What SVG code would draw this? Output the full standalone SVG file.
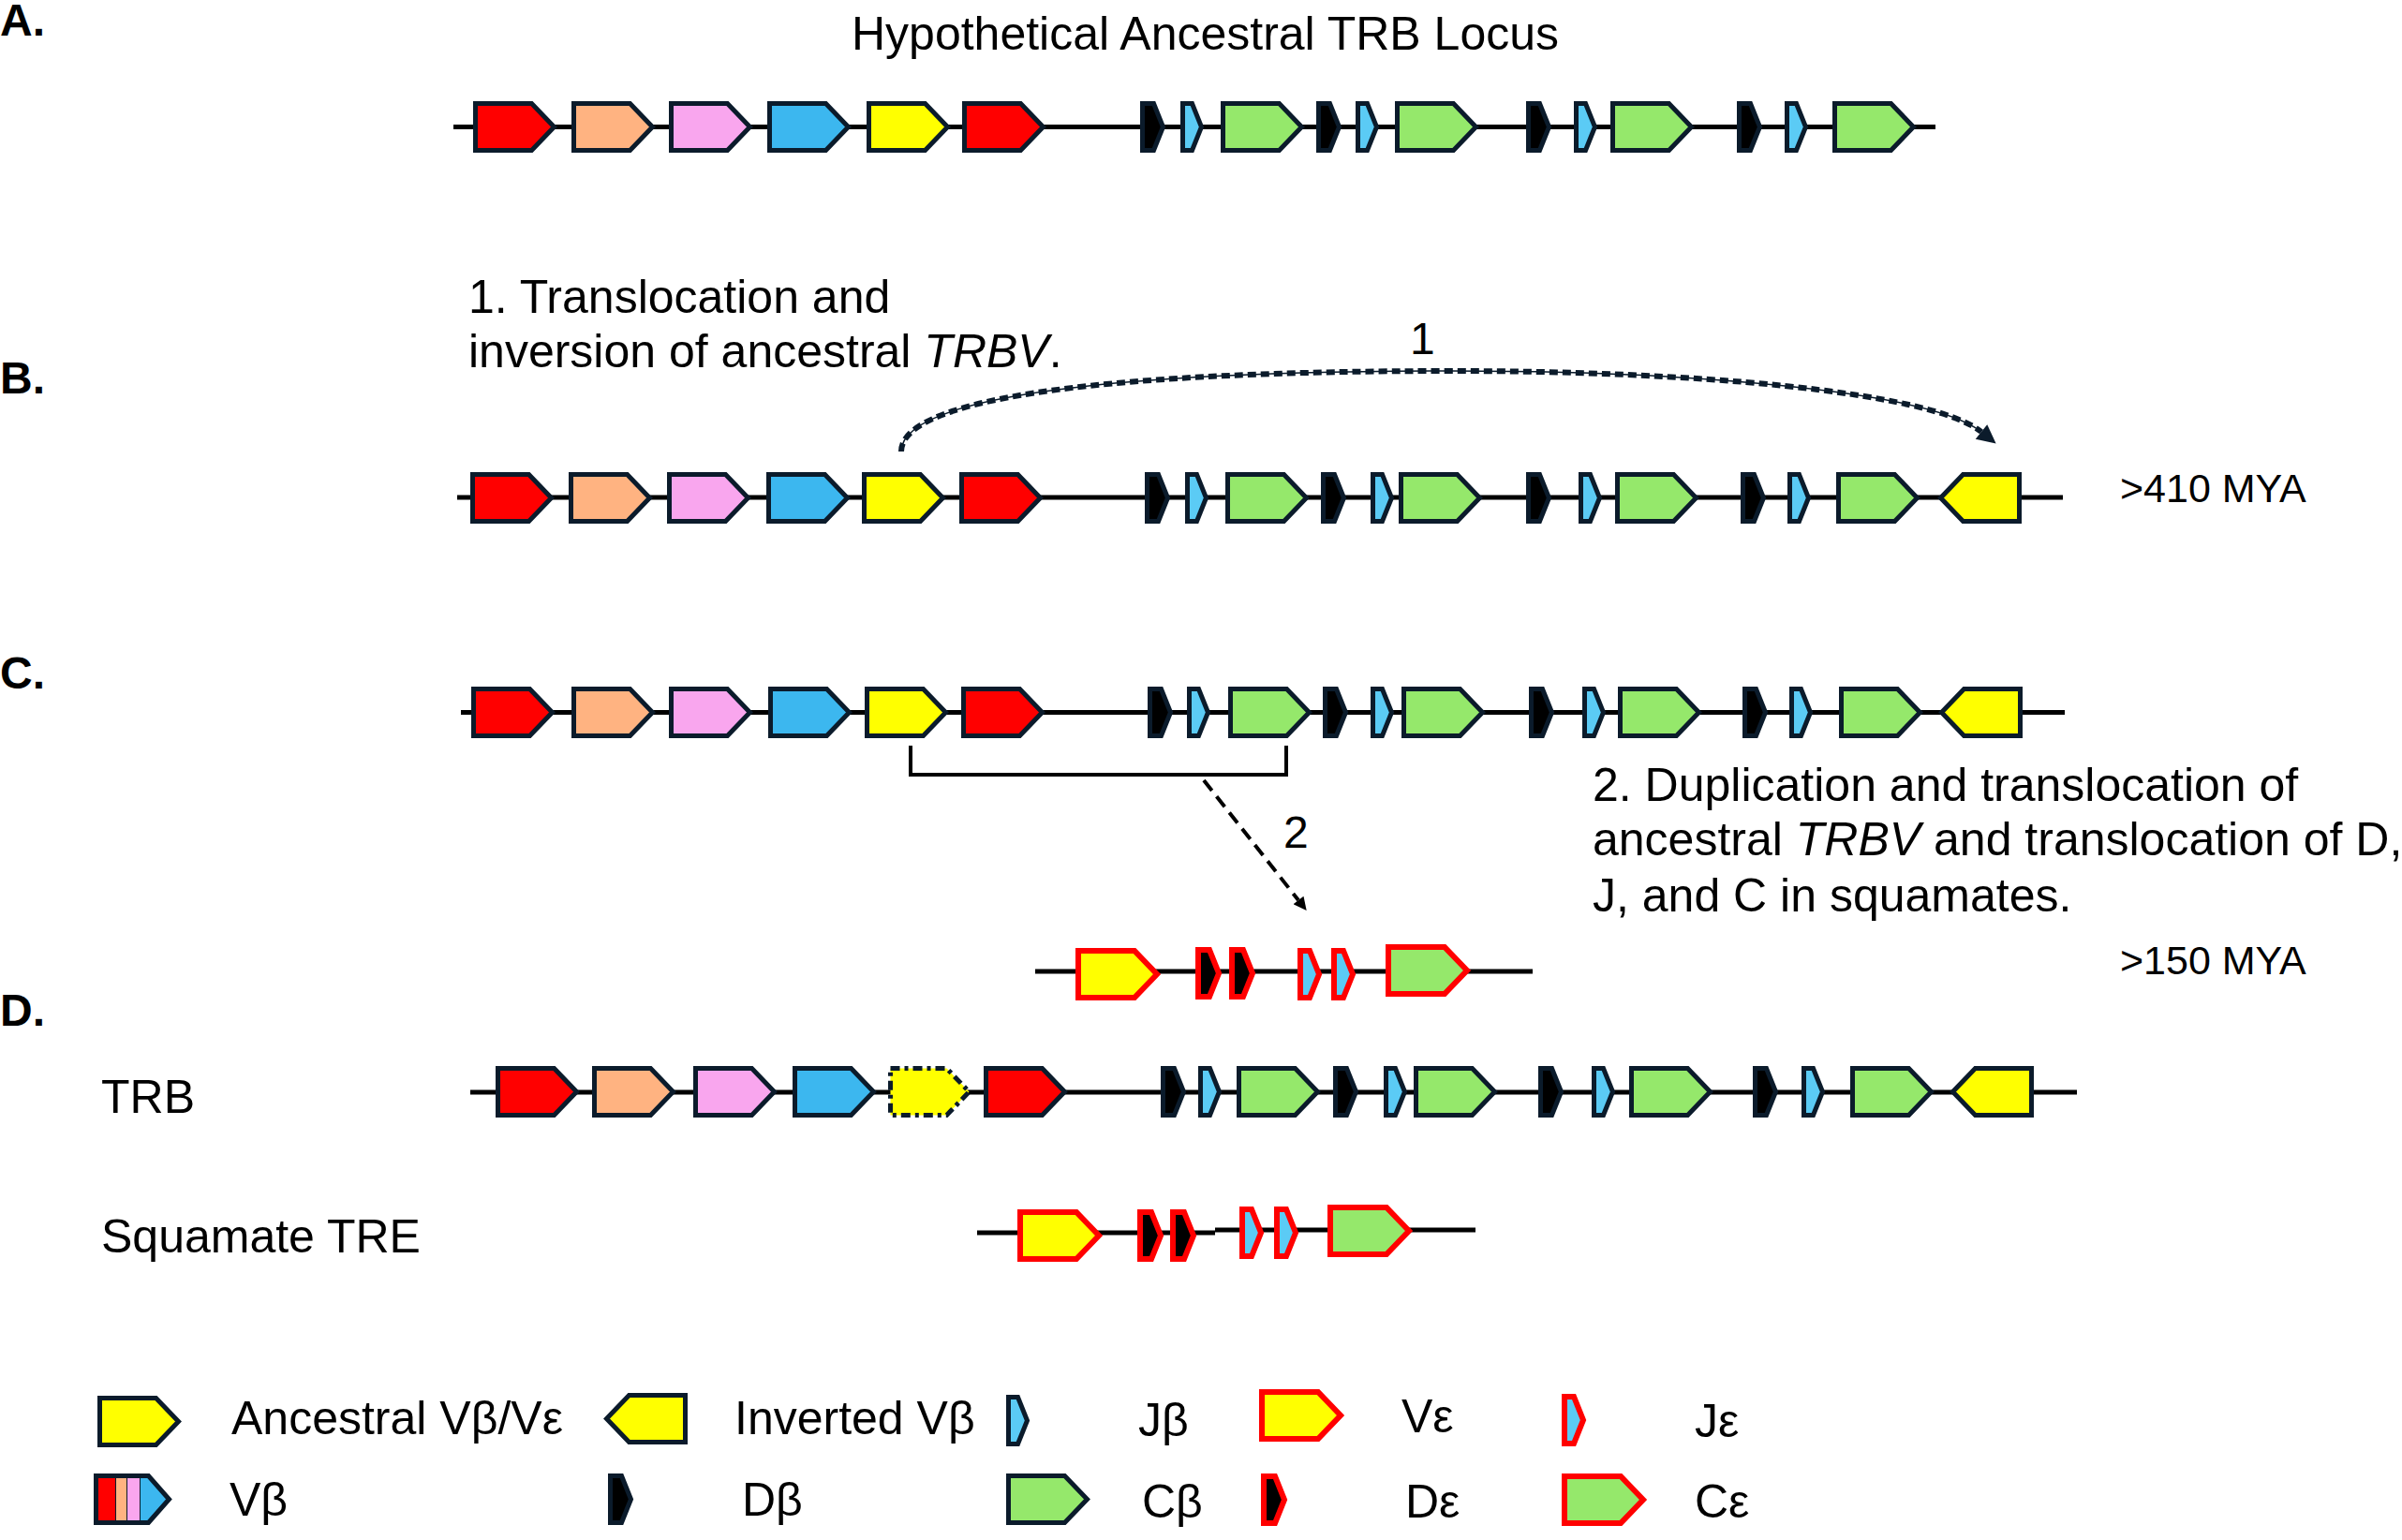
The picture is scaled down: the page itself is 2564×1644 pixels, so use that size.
<svg xmlns="http://www.w3.org/2000/svg" xmlns:xlink="http://www.w3.org/1999/xlink" width="2564" height="1644" viewBox="0 0 2564 1644">
<style>
text{font-family:"Liberation Sans",Arial,sans-serif;font-size:50px;fill:#000}
text.lbl{font-weight:bold;font-size:48px}
text.num{font-size:48px}
text.mya{font-size:43px}
.it{font-style:italic}
.ln{stroke:#000;stroke-width:5;fill:none}
.o{stroke:#0b1b2b;stroke-width:5;stroke-linejoin:miter}
.e{stroke:#ff0000;stroke-width:6;stroke-linejoin:miter}
.red{fill:#ff0000}.sal{fill:#ffb381}.pnk{fill:#f9a6ee}.blu{fill:#3cb7ef}.yel{fill:#ffff00}.grn{fill:#95e86b}.jb{fill:#5bcbf5}.blk{fill:#000}
.dsh{stroke-dasharray:10 5 4 5}
</style>
<defs>
<path id="g" d="M0,0 H60 L84,25 L60,50 H0 Z"/>
<path id="gi" d="M0,25 L24,0 H84 V50 H24 Z"/>
<path id="d" d="M0,0 H12 L22,25 L12,50 H0 Z"/>
<path id="j" d="M0,0 H10 L20,25 L10,50 H0 Z"/>
<path id="gs" d="M0,0 H56 L78,25 L56,50 H0 Z"/>
<clipPath id="cs"><use xlink:href="#gs"/></clipPath>
<marker id="ah1" viewBox="0 0 10 10" refX="0" refY="5" markerWidth="22" markerHeight="20" markerUnits="userSpaceOnUse" orient="auto"><path d="M0,0 L10,5 L0,10 Z" fill="#0b1b2b"/></marker>
<marker id="ah2" viewBox="0 0 10 10" refX="0" refY="5" markerWidth="16" markerHeight="14" markerUnits="userSpaceOnUse" orient="auto"><path d="M0,0 L10,5 L0,10 Z" fill="#000"/></marker>
</defs>

<g id="labels">
<text class="lbl" x="0" y="38">A.</text>
<text class="lbl" x="0" y="420">B.</text>
<text class="lbl" x="0" y="735">C.</text>
<text class="lbl" x="0" y="1095">D.</text>
</g>

<g id="texts">
<text x="909" y="53">Hypothetical Ancestral TRB Locus</text>
<text x="500" y="334">1. Translocation and</text>
<text x="500" y="392">inversion of ancestral <tspan class="it">TRBV</tspan>.</text>
<text class="num" x="1505" y="378">1</text>
<text class="mya" x="2263" y="536">&gt;410 MYA</text>
<text x="1700" y="855">2. Duplication and translocation of</text>
<text x="1700" y="913">ancestral <tspan class="it">TRBV</tspan> and translocation of D,</text>
<text x="1700" y="973">J, and C in squamates.</text>
<text class="num" x="1370" y="905">2</text>
<text class="mya" x="2263" y="1040">&gt;150 MYA</text>
<text x="108" y="1188">TRB</text>
<text x="108" y="1337">Squamate TRE</text>
</g>

<g id="connectors">
<path d="M962,482 C962,422 1200,396 1550,396 C1800,396 2060,417 2115,461" fill="none" stroke="#0b1b2b" stroke-width="1.5"/>
<path d="M962,482 C962,422 1200,396 1550,396 C1800,396 2060,417 2115,461" fill="none" stroke="#0b1b2b" stroke-width="6" stroke-dasharray="9 5" marker-end="url(#ah1)"/>
<path d="M972,796 V827 H1373 V796" fill="none" stroke="#000" stroke-width="4"/>
<path d="M1285,833 L1386,961" fill="none" stroke="#000" stroke-width="4" stroke-dasharray="14 8" marker-end="url(#ah2)"/>
</g>

<g id="locusA">
<path class="ln" d="M484,135.5 H2066"/>
<g transform="translate(0,110.5)">
<use xlink:href="#g" class="o red" x="507.5"/>
<use xlink:href="#g" class="o sal" x="612.5"/>
<use xlink:href="#g" class="o pnk" x="716.5"/>
<use xlink:href="#g" class="o blu" x="821.5"/>
<use xlink:href="#g" class="o yel" x="927.5"/>
<use xlink:href="#g" class="o red" x="1029.5"/>
<use xlink:href="#d" class="o blk" x="1219.5"/>
<use xlink:href="#j" class="o jb" x="1262.5"/>
<use xlink:href="#g" class="o grn" x="1305.5"/>
<use xlink:href="#d" class="o blk" x="1407.5"/>
<use xlink:href="#j" class="o jb" x="1449.5"/>
<use xlink:href="#g" class="o grn" x="1491.5"/>
<use xlink:href="#d" class="o blk" x="1631.5"/>
<use xlink:href="#j" class="o jb" x="1682.5"/>
<use xlink:href="#g" class="o grn" x="1721.5"/>
<use xlink:href="#d" class="o blk" x="1856.5"/>
<use xlink:href="#j" class="o jb" x="1907.5"/>
<use xlink:href="#g" class="o grn" x="1958.5"/>
</g>
</g>

<g id="locusB">
<path class="ln" d="M488,531 H2202"/>
<g transform="translate(0,506.5)">
<use xlink:href="#g" class="o red" x="504.5"/>
<use xlink:href="#g" class="o sal" x="609.5"/>
<use xlink:href="#g" class="o pnk" x="714.5"/>
<use xlink:href="#g" class="o blu" x="820.5"/>
<use xlink:href="#g" class="o yel" x="922.5"/>
<use xlink:href="#g" class="o red" x="1026.5"/>
<use xlink:href="#d" class="o blk" x="1224.5"/>
<use xlink:href="#j" class="o jb" x="1267.5"/>
<use xlink:href="#g" class="o grn" x="1310.5"/>
<use xlink:href="#d" class="o blk" x="1412.5"/>
<use xlink:href="#j" class="o jb" x="1465.5"/>
<use xlink:href="#g" class="o grn" x="1495.5"/>
<use xlink:href="#d" class="o blk" x="1631.5"/>
<use xlink:href="#j" class="o jb" x="1687.5"/>
<use xlink:href="#g" class="o grn" x="1726.5"/>
<use xlink:href="#d" class="o blk" x="1860.5"/>
<use xlink:href="#j" class="o jb" x="1910.5"/>
<use xlink:href="#g" class="o grn" x="1962.5"/>
<use xlink:href="#gi" class="o yel" x="2071.5"/>
</g>
</g>

<g id="locusC">
<path class="ln" d="M492,760.5 H2204"/>
<g transform="translate(0,735.5)">
<use xlink:href="#g" class="o red" x="505.5"/>
<use xlink:href="#g" class="o sal" x="612.5"/>
<use xlink:href="#g" class="o pnk" x="716.5"/>
<use xlink:href="#g" class="o blu" x="822.5"/>
<use xlink:href="#g" class="o yel" x="925.5"/>
<use xlink:href="#g" class="o red" x="1028.5"/>
<use xlink:href="#d" class="o blk" x="1227.5"/>
<use xlink:href="#j" class="o jb" x="1269.5"/>
<use xlink:href="#g" class="o grn" x="1313.5"/>
<use xlink:href="#d" class="o blk" x="1414.5"/>
<use xlink:href="#j" class="o jb" x="1465.5"/>
<use xlink:href="#g" class="o grn" x="1498.5"/>
<use xlink:href="#d" class="o blk" x="1634.5"/>
<use xlink:href="#j" class="o jb" x="1691.5"/>
<use xlink:href="#g" class="o grn" x="1729.5"/>
<use xlink:href="#d" class="o blk" x="1862.5"/>
<use xlink:href="#j" class="o jb" x="1912.5"/>
<use xlink:href="#g" class="o grn" x="1965.5"/>
<use xlink:href="#gi" class="o yel" x="2072.5"/>
</g>
</g>

<g id="locusC-squamate">
<path class="ln" d="M1105,1037 H1636"/>
<use xlink:href="#g" class="e yel" x="1151" y="1015"/>
<use xlink:href="#d" class="e blk" x="1279" y="1014"/>
<use xlink:href="#d" class="e blk" x="1315" y="1014"/>
<use xlink:href="#j" class="e jb" x="1388" y="1015"/>
<use xlink:href="#j" class="e jb" x="1424" y="1015"/>
<use xlink:href="#g" class="e grn" x="1482" y="1011"/>
</g>

<g id="locusD-TRB">
<path class="ln" d="M502,1166 H2217"/>
<g transform="translate(0,1140.5)">
<use xlink:href="#g" class="o red" x="531.5"/>
<use xlink:href="#g" class="o sal" x="634.5"/>
<use xlink:href="#g" class="o pnk" x="742.5"/>
<use xlink:href="#g" class="o blu" x="848.5"/>
<use xlink:href="#g" class="o yel dsh" x="950.5"/>
<use xlink:href="#g" class="o red" x="1052.5"/>
<use xlink:href="#d" class="o blk" x="1241.5"/>
<use xlink:href="#j" class="o jb" x="1281.5"/>
<use xlink:href="#g" class="o grn" x="1322.5"/>
<use xlink:href="#d" class="o blk" x="1425.5"/>
<use xlink:href="#j" class="o jb" x="1479.5"/>
<use xlink:href="#g" class="o grn" x="1511.5"/>
<use xlink:href="#d" class="o blk" x="1644.5"/>
<use xlink:href="#j" class="o jb" x="1701.5"/>
<use xlink:href="#g" class="o grn" x="1741.5"/>
<use xlink:href="#d" class="o blk" x="1873.5"/>
<use xlink:href="#j" class="o jb" x="1925.5"/>
<use xlink:href="#g" class="o grn" x="1977.5"/>
<use xlink:href="#gi" class="o yel" x="2084.5"/>
</g>
</g>

<g id="locusD-TRE">
<path class="ln" d="M1043,1316 H1297 M1297,1313 H1575"/>
<use xlink:href="#g" class="e yel" x="1089" y="1294"/>
<use xlink:href="#d" class="e blk" x="1217" y="1294"/>
<use xlink:href="#d" class="e blk" x="1252" y="1294"/>
<use xlink:href="#j" class="e jb" x="1326" y="1291"/>
<use xlink:href="#j" class="e jb" x="1363" y="1291"/>
<use xlink:href="#g" class="e grn" x="1420" y="1289"/>
</g>

<g id="legend">
<g id="leg-ancestral">
<use xlink:href="#g" class="o yel" x="106.5" y="1492.5"/>
<text x="247" y="1531">Ancestral Vβ/Vε</text>
</g>
<g id="leg-inverted">
<use xlink:href="#gi" class="o yel" x="647.5" y="1489.5"/>
<text x="784" y="1531">Inverted Vβ</text>
</g>
<g id="leg-jb">
<use xlink:href="#j" class="o jb" x="1076.5" y="1491.5"/>
<text x="1215" y="1533">Jβ</text>
</g>
<g id="leg-ve">
<use xlink:href="#g" class="e yel" x="1347" y="1486"/>
<text x="1496" y="1529">Vε</text>
</g>
<g id="leg-je">
<use xlink:href="#j" class="e jb" x="1670" y="1491"/>
<text x="1809" y="1534">Jε</text>
</g>
<g id="leg-vb">
<g transform="translate(102.5,1575.5)">
<g clip-path="url(#cs)">
<rect x="0" y="0" width="21" height="50" fill="#ff0000"/>
<rect x="21" y="0" width="12" height="50" fill="#ffb381"/>
<rect x="33" y="0" width="14" height="50" fill="#f9a6ee"/>
<rect x="47" y="0" width="35" height="50" fill="#3cb7ef"/>
<path d="M21,0 V50 M33,0 V50 M47,0 V50" stroke="#0b1b2b" stroke-width="1"/>
</g>
<use xlink:href="#gs" fill="none" stroke="#0b1b2b" stroke-width="5"/>
</g>
<text x="245" y="1618">Vβ</text>
</g>
<g id="leg-db">
<use xlink:href="#d" class="o blk" x="651.5" y="1575.5"/>
<text x="792" y="1618">Dβ</text>
</g>
<g id="leg-cb">
<use xlink:href="#g" class="o grn" x="1076.5" y="1575.5"/>
<text x="1219" y="1620">Cβ</text>
</g>
<g id="leg-de">
<use xlink:href="#d" class="e blk" x="1349" y="1576"/>
<text x="1500" y="1620">Dε</text>
</g>
<g id="leg-ce">
<use xlink:href="#g" class="e grn" x="1670" y="1576"/>
<text x="1809" y="1620">Cε</text>
</g>
</g>
</svg>
